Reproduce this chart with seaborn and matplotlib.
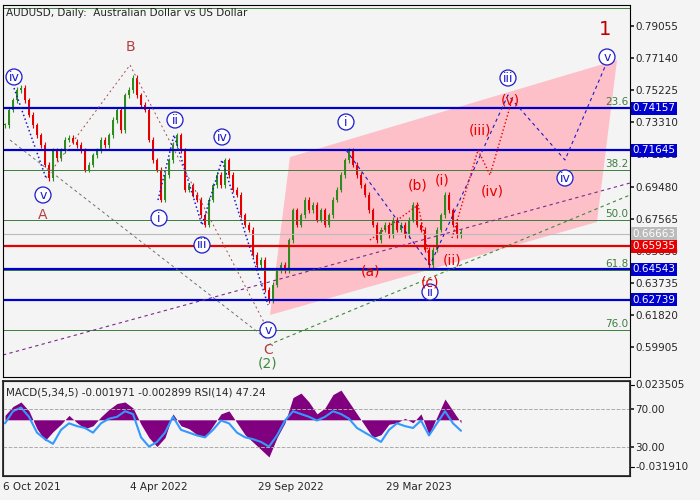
import numpy as np
import matplotlib
matplotlib.use("Agg")
import matplotlib.pyplot as plt
import matplotlib.transforms as mtransforms
import seaborn as sns

sns.set_theme(style="white")
plt.rcParams['font.family'] = ['DejaVu Sans']

closes = [0.7315, 0.7405, 0.7464, 0.7524, 0.7536, 0.7464, 0.7375, 0.7315, 0.7255, 0.7196,
          0.7077, 0.6999, 0.7166, 0.7118, 0.7166, 0.7226, 0.7238, 0.7214, 0.7196, 0.7166,
          0.7047, 0.7077, 0.7136, 0.7166, 0.7226, 0.7196, 0.7255, 0.7345, 0.7405, 0.7285,
          0.7494, 0.7524, 0.7596, 0.7494, 0.7435, 0.7405, 0.7226, 0.7106, 0.7047, 0.6868,
          0.7017, 0.7106, 0.7196, 0.7255, 0.7166, 0.6928, 0.6957, 0.6898, 0.6868, 0.6778,
          0.6719, 0.6868, 0.6957, 0.7017, 0.6957, 0.7106, 0.7017, 0.6928, 0.6898, 0.6778,
          0.6719, 0.6689, 0.6540, 0.6480, 0.6510, 0.6331, 0.6271, 0.6361, 0.6450, 0.6480,
          0.6450, 0.6629, 0.6808, 0.6719, 0.6778, 0.6868, 0.6808, 0.6838, 0.6749, 0.6808,
          0.6719, 0.6778, 0.6868, 0.6928, 0.7017, 0.7106, 0.7166, 0.7077, 0.7017, 0.6957,
          0.6898, 0.6808, 0.6719, 0.6629, 0.6689, 0.6719, 0.6659, 0.6749, 0.6689, 0.6719,
          0.6659, 0.6749, 0.6838, 0.6719, 0.6689, 0.6570, 0.6480, 0.6570, 0.6689, 0.6778,
          0.6898, 0.6808, 0.6719, 0.6659, 0.6677]

macd_hist = [0.003, 0.009, 0.012, 0.006, -0.006, -0.014, -0.008, -0.003, 0.003, -0.002,
             -0.006, -0.004, 0.002, 0.007, 0.011, 0.012, 0.008, -0.003, -0.012, -0.018,
             -0.012, 0.004, -0.004, -0.006, -0.010, -0.012, -0.004, 0.004, 0.006, -0.002,
             -0.010, -0.015, -0.020, -0.025, -0.012, -0.002, 0.015, 0.018, 0.012, 0.004,
             0.008, 0.017, 0.020, 0.012, 0.004, -0.004, -0.012, -0.010, -0.003, -0.002,
             0.001, -0.002, 0.004, -0.010, 0.002, 0.014, 0.006, -0.002]
rsi = [55, 68, 72, 62, 45, 38, 33, 48, 55, 52, 50, 45, 55, 60, 62, 68, 65, 40, 30, 35,
       45, 62, 48, 45, 42, 40, 48, 58, 55, 45, 40, 38, 35, 30, 42, 58, 68, 65, 62, 58,
       62, 68, 65, 60, 50, 45, 40, 35, 48, 55, 52, 50, 58, 42, 55, 68, 55, 47]

date_labels = ["6 Oct 2021", "4 Apr 2022", "29 Sep 2022", "29 Mar 2023"]
blue_levels = [0.74157, 0.71645, 0.64543, 0.62739]
red_level = 0.65935
gray_level = 0.66663
fib_pct = [0.0, 23.6, 38.2, 50.0, 61.8, 76.0]
fib_start, fib_end = 0.8013, 0.6092  # 0% and 76%
scale_ticks = [0.79055, 0.77140, 0.75225, 0.73310, 0.71395, 0.69480,
               0.67565, 0.65650, 0.63735, 0.61820, 0.59905]

BLUE = "#0000cc"
NAVY = "#1a1acc"
RED = "#e60000"
GREEN = "#3c7d3c"
FS = 7.5


def py(y):  # pixel row -> price (for annotation placement)
    return 0.8061 - 0.0005966 * y


fig = plt.figure(figsize=(7, 5), dpi=100)
fig.patch.set_facecolor("#f4f4f4")
ax = fig.add_axes([3 / 700, 123 / 500, 627 / 700, 372 / 500])
ax2 = fig.add_axes([3 / 700, 24 / 500, 627 / 700, 95 / 500])
for a in (ax, ax2):
    a.set_facecolor("#f4f4f4")
    for s in a.spines.values():
        s.set_color("black")
        s.set_linewidth(0.8)

x = 5 + 4 * np.arange(len(closes))
opens = [closes[0]] + closes[:-1]
for xi, o, c in zip(x, opens, closes):
    col = "#2e8b1e" if c >= o else RED
    ax.vlines(xi, min(o, c) - 0.0015, max(o, c) + 0.0015, color=col, lw=0.8)
    ax.bar(xi, max(abs(c - o), 0.0006), bottom=min(o, c), width=2.5, color=col, lw=0)

# pink channel
ax.fill([290, 617, 597, 270], [py(157), py(60), py(222), py(315)], color="#ffb6c1", alpha=0.85, zorder=0, lw=0)

# fibonacci levels
unit = (fib_start - fib_end) / 76.0
for p in fib_pct:
    lv = fib_start - p * unit
    ax.axhline(lv, color=GREEN, lw=0.7)
    if p > 0:
        ax.text(628, lv + 0.0008, f"{p:.1f}", color=GREEN, ha="right", va="bottom", fontsize=FS)
ax.axhline(gray_level, color="#bbbbbb", lw=0.8)
ax.axhline(red_level, color=RED, lw=1.6)
for lv in blue_levels:
    ax.axhline(lv, color=BLUE, lw=1.6)

# diagonal dashed lines
ax.plot([3, 630], [py(355), py(183)], color="#7a2a8a", lw=0.8, dashes=(3, 3))
ax.plot([268, 630], [py(345), py(195)], color="#3c8a3c", lw=0.8, dashes=(3, 3))
ax.plot([10, 268], [py(140), py(340)], color="#707070", lw=0.7, dashes=(3, 3))
ax.plot([46, 130, 268], [py(178), py(65), py(330)], color="#a05050", lw=0.7, dashes=(2, 3))
# wave paths
ax.plot([14, 46], [py(88), py(178)], ls=":", color=NAVY, lw=1.1)
ax.plot([158, 174, 202, 222, 268], [py(200), py(135), py(225), py(160), py(305)], ls=":", color=NAVY, lw=1.1)
ax.plot([346, 430, 508, 565, 607], [py(150), py(265), py(95), py(160), py(62)], color=NAVY, lw=0.8, dashes=(3, 3))
ax.plot([370, 418, 430], [py(240), py(205), py(262)], ls=":", color=RED, lw=1.0)
ax.plot([452, 478, 490, 512], [py(238), py(150), py(175), py(100)], ls=":", color=RED, lw=1.0)

circ = dict(boxstyle="circle,pad=0.12", fc="white", ec=NAVY, lw=0.9)
for t, xx, yy in [("iv", 14, 77), ("v", 43, 195), ("ii", 175, 120), ("iv", 222, 137),
                  ("i", 159, 218), ("iii", 202, 245), ("v", 268, 330), ("i", 346, 122),
                  ("ii", 430, 292), ("iii", 508, 78), ("iv", 565, 178), ("v", 607, 57)]:
    ax.text(xx, py(yy), t, color=NAVY, fontsize=9, ha="center", va="center", bbox=circ)
for t, xx, yy in [("(a)", 371, 272), ("(b)", 418, 185), ("(c)", 430, 283), ("(i)", 442, 180),
                  ("(ii)", 452, 260), ("(iii)", 480, 130), ("(iv)", 492, 192), ("(v)", 510, 100)]:
    ax.text(xx, py(yy), t, color=RED, fontsize=10, ha="center", va="center")
ax.text(43, py(215), "A", color="#b04040", fontsize=10, ha="center", va="center")
ax.text(130, py(47), "B", color="#b04040", fontsize=10, ha="center", va="center")
ax.text(268, py(350), "C", color="#b04040", fontsize=10, ha="center", va="center")
ax.text(268, py(363), "(2)", color="#3c8a3c", fontsize=10, ha="center", va="center")
ax.text(605, py(30), "1", color="#c00000", fontsize=14, ha="center", va="center")
ax.text(6, py(13), "AUDUSD, Daily:  Australian Dollar vs US Dollar", fontsize=FS, va="center")

ax.set_xlim(3, 630)
ax.set_ylim(py(377), py(5))
ax.set_xticks([])
ax.yaxis.tick_right()
ax.set_yticks(scale_ticks)
ax.set_yticklabels([f"{v:.5f}" for v in scale_ticks], fontsize=FS)
ax.tick_params(axis="y", length=3, pad=1)
tr = mtransforms.blended_transform_factory(ax.transAxes, ax.transData)
for lv, fc in [(b, BLUE) for b in blue_levels] + [(red_level, RED), (gray_level, "#bbbbbb")]:
    ax.text(1.004, lv, f"{lv:.5f}", transform=tr, color="white", fontsize=FS, va="center", ha="left",
            bbox=dict(boxstyle="square,pad=0.15", fc=fc, ec="none"))

# indicator panel
xi = 5 + 8 * np.arange(len(macd_hist))
ax2.fill_between(xi, 0, macd_hist, color="#800080", lw=0)
ax2.set_ylim(-0.03785, 0.02614)
ax2.set_xlim(3, 630)
ax3 = ax2.twinx()
sns.lineplot(x=xi, y=rsi, ax=ax3, color="#3399ff", lw=1.5)
ax3.set_ylim(-1.6, 100.5)
ax3.axhline(70, color="#aaaaaa", ls="--", lw=0.7)
ax3.axhline(30, color="#aaaaaa", ls="--", lw=0.7)
ax3.set_yticks([70, 30])
ax3.set_yticklabels(["70.00", "30.00"], fontsize=FS)
ax3.set_ylabel("")
ax3.tick_params(axis="y", length=3, pad=1)
# MACD extremes share the right scale
trr = mtransforms.blended_transform_factory(ax2.transAxes, ax2.transData)
for v in (0.023505, -0.031910):
    ax2.plot([1.0, 1.006], [v, v], transform=trr, color="black", lw=0.8, clip_on=False)
    ax2.text(1.009, v, f"{v:.6f}", transform=trr, fontsize=FS, va="center")
ax2.set_yticks([])
ax2.text(0.005, 0.88, "MACD(5,34,5) -0.001971 -0.002899 RSI(14) 47.24", transform=ax2.transAxes, fontsize=FS, va="center")
ax2.set_xticks([3, 130, 258, 386])
ax2.set_xticklabels(date_labels, fontsize=FS)
ax2.tick_params(axis="x", length=3, pad=1)
for lbl in ax2.get_xticklabels():
    lbl.set_horizontalalignment("left")

fig.savefig("out.png", dpi=100, facecolor=fig.get_facecolor())
